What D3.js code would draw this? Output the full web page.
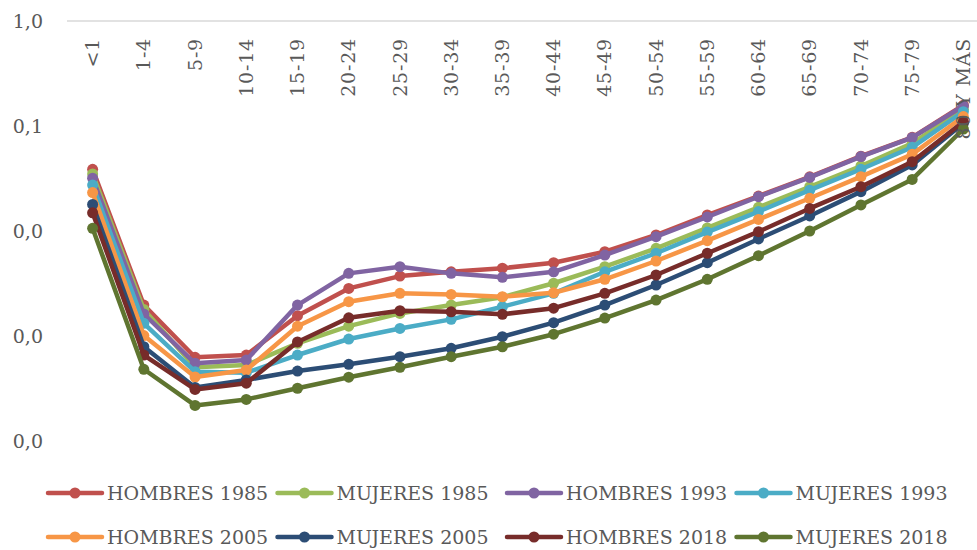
<!DOCTYPE html>
<html>
<head>
<meta charset="utf-8">
<script src="https://cdn.jsdelivr.net/npm/d3@7/dist/d3.min.js"></script>
<style>
  body { margin: 0; background: #fff; }
  text { font-family: "DejaVu Serif", serif; fill: #595959; }
</style>
</head>
<body>
<script>
var ageGroups = ["<1", "1-4", "5-9", "10-14", "15-19", "20-24", "25-29", "30-34", "35-39",
    "40-44", "45-49", "50-54", "55-59", "60-64", "65-69", "70-74", "75-79", "80 Y MÁS"];

var hombres1985 = [0.0387, 0.00197, 0.000627, 0.000659, 0.00156, 0.00284, 0.00372, 0.00409, 0.00442,
    0.00499, 0.00635, 0.00916, 0.0142, 0.0215, 0.0328, 0.0516, 0.078, 0.158];
var mujeres1985 = [0.0349, 0.00179, 0.000504, 0.00053, 0.000851, 0.00124, 0.00164, 0.00197, 0.00234,
    0.00318, 0.00457, 0.00684, 0.0107, 0.0168, 0.0264, 0.0416, 0.0684, 0.144];
var hombres1993 = [0.0318, 0.00162, 0.00055, 0.00059, 0.00197, 0.00395, 0.00457, 0.00395, 0.00362,
    0.00409, 0.0059, 0.00883, 0.0136, 0.0212, 0.0324, 0.0511, 0.0774, 0.155];
var mujeres1993 = [0.0274, 0.00132, 0.000457, 0.000447, 0.000659, 0.000936, 0.00118, 0.00144, 0.0019,
    0.00255, 0.00409, 0.00614, 0.00977, 0.0153, 0.0245, 0.0387, 0.0627, 0.137];
var hombres2005 = [0.0232, 0.00101, 0.000407, 0.000474, 0.00124, 0.00212, 0.00255, 0.00249, 0.00237,
    0.00258, 0.00347, 0.00518, 0.00809, 0.0129, 0.0205, 0.0329, 0.0537, 0.123];
var mujeres2005 = [0.0179, 0.00079, 0.000324, 0.000381, 0.000464, 0.000537, 0.000635, 0.000764, 0.000984,
    0.00134, 0.00197, 0.00306, 0.00499, 0.0084, 0.0139, 0.0237, 0.0426, 0.106];
var hombres2018 = [0.0149, 0.000659, 0.00031, 0.000355, 0.000877, 0.00149, 0.00174, 0.0017, 0.00161,
    0.00184, 0.00255, 0.00381, 0.00614, 0.00985, 0.0164, 0.0264, 0.0457, 0.11];
var mujeres2018 = [0.0106, 0.000482, 0.000218, 0.000249, 0.000318, 0.000405, 0.000504, 0.000635, 0.00079,
    0.00104, 0.00148, 0.0022, 0.00347, 0.00582, 0.01, 0.0177, 0.031, 0.0936];

var seriesNames = ["HOMBRES 1985", "MUJERES 1985", "HOMBRES 1993", "MUJERES 1993",
    "HOMBRES 2005", "MUJERES 2005", "HOMBRES 2018", "MUJERES 2018"];
var seriesColors = ["#C0504D", "#9BBB59", "#8064A2", "#4BACC6",
    "#F79646", "#2C4D75", "#772C2A", "#5F7530"];
var seriesValues = [hombres1985, mujeres1985, hombres1993, mujeres1993,
    hombres2005, mujeres2005, hombres2018, mujeres2018];
var yTicks = [1, 0.1, 0.01, 0.001, 0.0001];

var width = 977, height = 550;
var margin = { top: 21, right: -12, bottom: 109, left: 67 };

var svg = d3.select("body").append("svg")
    .attr("width", width)
    .attr("height", height);

var x = d3.scalePoint()
    .domain(ageGroups)
    .range([margin.left, width - margin.right])
    .padding(0.5);

var y = d3.scaleLog()
    .domain([0.0001, 1])
    .range([height - margin.bottom, margin.top]);

var locale = d3.formatLocale({ decimal: ",", thousands: ".", grouping: [3], currency: ["", "€"] });
var fmt = locale.format(".1f");

// top axis line
svg.append("line")
    .attr("x1", margin.left)
    .attr("x2", width)
    .attr("y1", y(1))
    .attr("y2", y(1))
    .attr("stroke", "#d9d9d9")
    .attr("stroke-width", 1.3);

// y tick labels
svg.append("g")
    .selectAll("text")
    .data(yTicks)
    .enter().append("text")
    .attr("x", 43)
    .attr("y", function(d) { return y(d); })
    .attr("dy", "0.35em")
    .attr("font-size", "19px")
    .style("text-anchor", "end")
    .text(function(d) { return fmt(d); });

var line = d3.line()
    .x(function(d, i) { return x(ageGroups[i]); })
    .y(function(d) { return y(d); });

var series = svg.append("g")
    .selectAll("g")
    .data(seriesValues)
    .enter().append("g");

series.append("path")
    .attr("d", line)
    .attr("fill", "none")
    .attr("stroke", function(d, i) { return seriesColors[i]; })
    .attr("stroke-width", 4.5)
    .attr("stroke-linejoin", "round")
    .attr("stroke-linecap", "round");

series.each(function(vals, si) {
    d3.select(this).selectAll("circle")
        .data(vals)
        .enter().append("circle")
        .attr("cx", function(d, i) { return x(ageGroups[i]); })
        .attr("cy", function(d) { return y(d); })
        .attr("r", 5.5)
        .attr("fill", seriesColors[si]);
});

// category labels, rotated, at the top (drawn over the lines)
svg.append("g")
    .selectAll("text")
    .data(ageGroups)
    .enter().append("text")
    .attr("transform", function(d) { return "translate(" + x(d) + ",38) rotate(-90)"; })
    .attr("dy", "0.35em")
    .attr("font-size", "19px")
    .attr("letter-spacing", "0.8px")
    .style("text-anchor", "end")
    .text(function(d) { return d; });

// legend
var legend = svg.append("g")
    .selectAll("g")
    .data(seriesNames)
    .enter().append("g")
    .attr("transform", function(d, i) {
        return "translate(" + (48 + (i % 4) * 229.5) + "," + (493 + Math.floor(i / 4) * 44) + ")";
    });

legend.append("line")
    .attr("x1", 0).attr("x2", 54)
    .attr("stroke", function(d, i) { return seriesColors[i]; })
    .attr("stroke-width", 4.5)
    .attr("stroke-linecap", "round");

legend.append("circle")
    .attr("cx", 27)
    .attr("r", 5.5)
    .attr("fill", function(d, i) { return seriesColors[i]; });

legend.append("text")
    .attr("x", 59)
    .attr("dy", "0.35em")
    .attr("font-size", "19px")
    .text(function(d) { return d; });
</script>
</body>
</html>
